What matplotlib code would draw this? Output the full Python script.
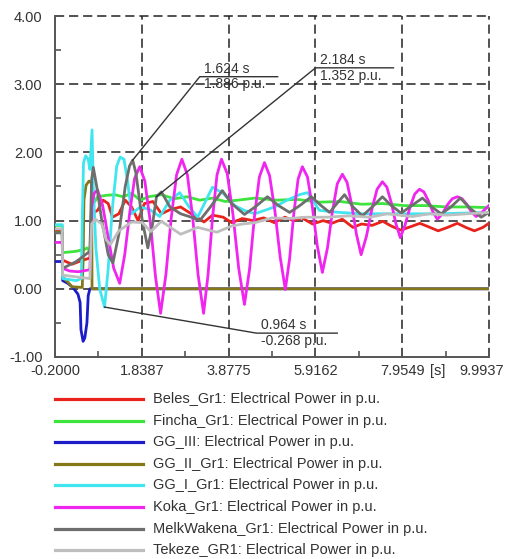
import matplotlib
matplotlib.use("Agg")
import matplotlib.pyplot as plt
from matplotlib.lines import Line2D
from matplotlib.transforms import ScaledTranslation

plt.rcParams['font.family'] = ['Liberation Sans', 'DejaVu Sans']

# ---- simulated electrical power of the generators (p.u.) vs time (s) ----
beles_t = [-0.2, -0.03, -0.02, 0.2, 0.45, 0.62, 0.66, 0.80, 0.93, 1.05, 1.15, 1.30, 1.45, 1.60, 1.75,
           1.90, 2.10, 2.30, 2.50, 2.75, 3.00, 3.30, 3.50, 3.75, 3.95, 4.20, 4.45, 4.70, 4.95, 5.20,
           5.40, 5.60, 5.85, 6.10, 6.30, 6.55, 6.80, 7.00, 7.25, 7.50, 7.70, 7.92, 8.15, 8.37, 8.57,
           8.80, 9.02, 9.25, 9.45, 9.65, 9.85, 9.99]
beles_v = [0.85, 0.85, 0.42, 0.36, 0.42, 0.45, 1.10, 1.15, 1.30, 1.25, 1.05, 1.10, 1.30, 1.20, 1.00,
           1.25, 1.28, 1.10, 1.16, 1.20, 1.10, 0.98, 1.08, 1.05, 0.97, 1.03, 1.00, 1.04, 0.97, 1.05,
           1.00, 1.04, 0.95, 1.00, 0.96, 1.02, 0.90, 0.95, 0.93, 0.99, 0.92, 0.86, 0.91, 0.96, 0.91,
           0.85, 0.90, 0.96, 0.90, 0.85, 0.90, 0.96]

fincha_t = [-0.2, -0.03, -0.02, 0.3, 0.5, 0.55, 0.62, 0.66, 0.80, 1.00, 1.20, 1.40, 1.60, 1.80, 2.00,
            2.30, 2.60, 2.90, 3.20, 3.50, 3.80, 4.10, 4.50, 5.00, 5.50, 6.00, 6.50, 7.00, 7.50, 8.00,
            8.50, 9.00, 9.50, 9.99]
fincha_v = [0.93, 0.93, 0.53, 0.55, 0.58, 0.60, 0.55, 1.20, 1.35, 1.37, 1.38, 1.35, 1.40, 1.30, 1.35,
            1.38, 1.32, 1.35, 1.30, 1.33, 1.28, 1.30, 1.33, 1.30, 1.31, 1.27, 1.28, 1.24, 1.25, 1.22,
            1.22, 1.20, 1.20, 1.19]

gg3_t = [-0.2, -0.03, -0.02, 0.10, 0.22, 0.34, 0.39, 0.41, 0.46, 0.50, 0.55, 0.58, 0.62, 9.99]
gg3_v = [0.40, 0.40, 0.12, 0.08, 0.02, -0.08, -0.20, -0.60, -0.77, -0.72, -0.50, -0.10, 0.0, 0.0]

gg2_t = [-0.2, -0.03, -0.02, 0.10, 0.20, 0.44, 0.46, 0.48, 0.53, 0.60, 0.66, 0.67, 9.99]
gg2_v = [0.83, 0.83, 0.17, 0.10, 0.03, 0.02, 0.40, 1.30, 1.52, 1.58, 1.55, 0.0, 0.0]

gg1_t = [-0.2, -0.03, -0.02, 0.30, 0.42, 0.44, 0.47, 0.52, 0.58, 0.62, 0.67, 0.70, 0.76, 0.85, 0.964,
         1.05, 1.15, 1.25, 1.33, 1.42, 1.50, 1.60, 1.80, 2.03, 2.26, 2.50, 2.73, 2.95, 3.15, 3.50,
         3.75, 4.02, 4.25, 4.49, 4.96, 5.25, 5.54, 5.73, 6.01, 6.48, 7.00, 7.89, 8.80, 9.99]
gg1_v = [0.94, 0.94, 0.15, 0.12, 0.15, 1.00, 1.85, 1.95, 1.90, 1.75, 2.33, 1.50, 0.60, 0.00, -0.268,
         0.30, 1.20, 1.80, 1.93, 1.90, 1.60, 1.10, 1.20, 1.16, 1.06, 1.30, 1.41, 1.20, 1.05, 1.49,
         1.40, 1.22, 1.15, 1.10, 1.20, 1.30, 1.38, 1.41, 1.15, 1.12, 1.10, 1.10, 1.10, 1.12]

koka_t = [-0.2, -0.03, -0.02, 0.15, 0.35, 0.62, 0.66, 0.72, 0.80, 0.92, 1.05, 1.18, 1.32,
          1.44, 1.56, 1.67, 1.79, 1.91, 2.04, 2.16, 2.28, 2.405, 2.53, 2.655, 2.78, 2.91, 3.035,
          3.16, 3.29, 3.395, 3.50, 3.605, 3.71, 3.845, 3.98, 4.115, 4.25, 4.37, 4.485, 4.60, 4.72,
          4.84, 4.965, 5.09, 5.21, 5.31, 5.41, 5.51, 5.61, 5.73, 5.845, 5.96, 6.08, 6.20, 6.315,
          6.43, 6.55, 6.66, 6.77, 6.88, 6.99, 7.115, 7.24, 7.365, 7.49, 7.595, 7.70, 7.805, 7.91,
          8.02, 8.135, 8.25, 8.36, 8.465, 8.57, 8.675, 8.78, 8.90, 9.015, 9.13, 9.25, 9.36, 9.47,
          9.58, 9.69, 9.79, 9.89, 9.99]
koka_v = [0.68, 0.68, 0.30, 0.26, 0.25, 0.28, 1.20, 1.40, 1.45, 1.22, 0.75, 0.30, 0.08,
          0.51, 1.14, 1.62, 1.79, 1.58, 0.97, 0.18, -0.36, 0.21, 1.04, 1.67, 1.90, 1.67, 1.04,
          0.21, -0.36, 0.21, 1.04, 1.67, 1.90, 1.69, 1.09, 0.30, -0.23, 0.29, 1.06, 1.64, 1.85,
          1.66, 1.14, 0.46, -0.01, 0.44, 1.11, 1.61, 1.79, 1.64, 1.20, 0.63, 0.24, 0.60, 1.13,
          1.54, 1.68, 1.56, 1.23, 0.80, 0.50, 0.77, 1.16, 1.46, 1.57, 1.49, 1.26, 0.96, 0.75,
          0.93, 1.19, 1.39, 1.46, 1.42, 1.29, 1.13, 1.02, 1.10, 1.23, 1.32, 1.35, 1.32, 1.24,
          1.13, 1.06, 1.10, 1.16, 1.22]

melk_t = [-0.2, -0.03, -0.02, 0.30, 0.62, 0.66, 0.70, 0.78, 0.90, 1.05, 1.16, 1.30, 1.45, 1.55, 1.624,
          1.70, 1.85, 1.98, 2.08, 2.184, 2.30, 2.50, 2.75, 3.00, 3.20, 3.45, 3.73, 3.95, 4.25, 4.50,
          4.79, 5.05, 5.31, 5.55, 5.82, 6.05, 6.25, 6.42, 6.60, 6.80, 7.02, 7.25, 7.49, 7.70, 7.93,
          8.18, 8.43, 8.65, 8.87, 9.10, 9.32, 9.55, 9.81, 9.99]
melk_v = [0.82, 0.82, 0.30, 0.40, 0.55, 1.60, 1.78, 1.50, 1.00, 0.50, 0.38, 0.80, 1.50, 1.80, 1.886,
          1.70, 1.00, 0.60, 0.90, 1.352, 1.42, 1.20, 1.10, 1.05, 1.00, 1.20, 1.44, 1.25, 1.09, 1.20,
          1.35, 1.22, 1.12, 1.22, 1.35, 1.22, 1.12, 1.25, 1.38, 1.20, 1.07, 1.20, 1.35, 1.22, 1.11,
          1.22, 1.33, 1.20, 1.10, 1.20, 1.33, 1.18, 1.05, 1.12]

tekeze_t = [-0.2, -0.03, -0.02, 0.62, 0.66, 0.75, 0.90, 1.00, 1.10, 1.30, 1.60, 1.85, 2.05, 2.30, 2.75,
            3.15, 3.60, 3.95, 4.20, 4.50, 4.90, 5.30, 5.70, 6.20, 6.70, 7.20, 7.60, 8.20, 8.60, 9.00,
            9.50, 9.99]
tekeze_v = [0.88, 0.88, 0.20, 0.15, 0.95, 1.02, 0.95, 0.72, 0.65, 0.85, 0.98, 0.97, 0.84, 0.99, 0.80,
            0.90, 0.83, 0.92, 0.95, 0.97, 1.04, 1.03, 1.05, 1.05, 1.07, 1.05, 1.10, 1.06, 1.10, 1.08,
            1.10, 1.12]

series_labels = [
    "Beles_Gr1: Electrical Power in p.u.",
    "Fincha_Gr1: Electrical Power in p.u.",
    "GG_III: Electrical Power in p.u.",
    "GG_II_Gr1: Electrical Power in p.u.",
    "GG_I_Gr1: Electrical Power in p.u.",
    "Koka_Gr1: Electrical Power in p.u.",
    "MelkWakena_Gr1: Electrical Power in p.u.",
    "Tekeze_GR1: Electrical Power in p.u.",
]
series_colors = ["#e8231c", "#3de43d", "#1c1cc8", "#857818", "#3fe6f0", "#f025f0", "#6e6e6e", "#bebebe"]
series_t = [beles_t, fincha_t, gg3_t, gg2_t, gg1_t, koka_t, melk_t, tekeze_t]
series_v = [beles_v, fincha_v, gg3_v, gg2_v, gg1_v, koka_v, melk_v, tekeze_v]

x_ticks = [-0.2, 1.8387, 3.8775, 5.9162, 7.9549, 9.9937]
x_tick_labels = ["-0.2000", "1.8387", "3.8775", "5.9162", "7.9549", "9.9937"]
y_ticks = [-1.0, 0.0, 1.0, 2.0, 3.0, 4.0]

# cursor read-outs: (time s, value p.u.)
markers = [(1.624, 1.886), (2.184, 1.352), (0.964, -0.268)]

W, H = 508, 559
fig = plt.figure(figsize=(W / 100, H / 100), dpi=100)
ax = fig.add_axes([55 / W, 1 - 357 / H, (489 - 55) / W, (357 - 16) / H])

for t, v, c in zip(series_t, series_v, series_colors):
    ax.plot(t, v, color=c, lw=2.0, solid_joinstyle="round", zorder=3)

ax.set_xlim(x_ticks[0], x_ticks[-1])
ax.set_ylim(y_ticks[0], y_ticks[-1])

# dashed grid
grid_kw = dict(color="#222222", lw=1.1, dashes=(6.0, 3.2), zorder=1, clip_on=False)
for y in y_ticks[1:]:
    ax.axhline(y, **grid_kw)
for x in x_ticks[1:]:
    ax.axvline(x, **grid_kw)

for s in ("top", "right"):
    ax.spines[s].set_visible(False)
for s in ("left", "bottom"):
    ax.spines[s].set_color("#555555")
    ax.spines[s].set_linewidth(1.4)

ax.set_xticks(x_ticks)
ax.set_xticklabels(x_tick_labels)
ax.set_yticks(y_ticks)
ax.set_yticklabels([f"{y:.2f}" for y in y_ticks])
ax.set_xticks([(a + b) / 2 for a, b in zip(x_ticks[:-1], x_ticks[1:])], minor=True)
ax.set_yticks([y + 0.5 for y in y_ticks[:-1]], minor=True)
ax.tick_params(which="both", direction="in", length=4, width=1.2, color="#555555")
ax.tick_params(axis="x", which="major", labelsize=10.5, labelcolor="#333333", pad=5)
ax.tick_params(axis="y", which="major", labelsize=10.5, labelcolor="#333333", pad=9)

# keep the last time label inside the figure border
last_lbl = ax.get_xticklabels()[-1]
last_lbl.set_transform(last_lbl.get_transform() + ScaledTranslation(-0.07, 0, fig.dpi_scale_trans))

ax.annotate("[s]", xy=(8.75, -1.0), xytext=(1, -5), textcoords="offset points",
            ha="center", va="top", fontsize=10.5, color="#333333", annotation_clip=False)

# cursor annotations
label_elbows = [((3.20, 3.11), 5.03), ((5.92, 3.24), 7.75), ((4.53, -0.65), 6.43)]
for (mt, mv), ((ex, ey), end_x) in zip(markers, label_elbows):
    ax.plot([mt, ex, end_x], [mv, ey, ey], color="#333333", lw=1.0, zorder=4)
    ax.annotate(f"{mt:.3f} s", xy=(ex, ey), xytext=(3, 0.5), textcoords="offset points",
                ha="left", va="bottom", fontsize=10, color="#333333", zorder=5)
    ax.annotate(f"{mv:.3f} p.u.", xy=(ex, ey), xytext=(3, -0.5), textcoords="offset points",
                ha="left", va="top", fontsize=10, color="#333333", zorder=5)

# legend below the plot
row0, step = 399, 21.6
for i, (lab, c) in enumerate(zip(series_labels, series_colors)):
    yy = 1 - (row0 + i * step) / H
    fig.add_artist(Line2D([55 / W, 143 / W], [yy, yy], color=c, lw=2.3,
                          transform=fig.transFigure))
    fig.text(153 / W, yy, lab, fontsize=10.5, color="#333333", va="center", ha="left")

fig.savefig("out.png", dpi=100)
